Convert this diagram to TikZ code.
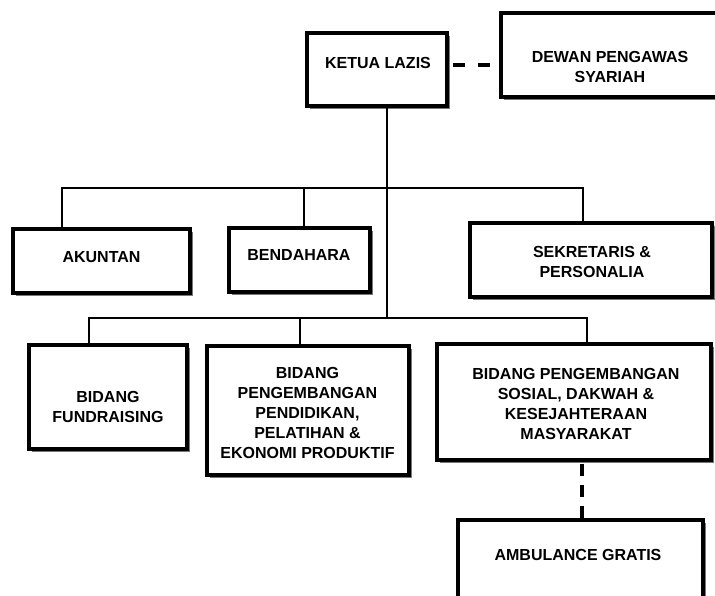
\documentclass[tikz,border=0pt]{standalone}
\usepackage{fontspec}
\setmainfont{Liberation Sans}
\usetikzlibrary{shadows}
\begin{document}
\begin{tikzpicture}[x=1pt,y=-1pt,
  box/.style={draw, line width=3.2pt, fill=white, inner sep=0pt,
    drop shadow={shadow xshift=2.5pt, shadow yshift=-2.5pt, fill=black!70, opacity=0.75}},
  lbl/.style={font=\fontsize{16}{20}\selectfont\bfseries, align=center, inner sep=0pt},
  conn/.style={line width=2.8pt},
  dconnh/.style={line width=3.2pt, dash pattern=on 12pt off 13pt, dash phase=21pt},
  dconnv/.style={line width=3.2pt, dash pattern=on 12pt off 9pt, dash phase=19pt}]
\useasboundingbox (0,0) rectangle (715,595);
% boxes
\node[box, minimum width=140pt, minimum height=73pt] (ketua) at (377,69.5) {};
\node[box, minimum width=221pt, minimum height=84pt] (dewan) at (611.5,55) {};
\node[box, minimum width=177pt, minimum height=64pt] (akuntan) at (101.5,261) {};
\node[box, minimum width=141pt, minimum height=64pt] (bendahara) at (299.5,260) {};
\node[box, minimum width=242pt, minimum height=74pt] (sekretaris) at (591,260) {};
\node[box, minimum width=158pt, minimum height=104pt] (fund) at (108,397) {};
\node[box, minimum width=202pt, minimum height=129pt] (pend) at (308,410.5) {};
\node[box, minimum width=274pt, minimum height=116pt] (sosial) at (574,402) {};
\node[box, minimum width=245pt, minimum height=80pt] (amb) at (580.5,560) {};
% texts
\node[lbl] (ketua-t) at (378,62.5) {KETUA LAZIS};
\node[lbl] (dewan-t) at (610,67) {DEWAN PENGAWAS\\SYARIAH};
\node[lbl] (akuntan-t) at (101.5,257) {AKUNTAN};
\node[lbl] (bendahara-t) at (299,255) {BENDAHARA};
\node[lbl] (sekretaris-t) at (592,262) {SEKRETARIS \&\\PERSONALIA};
\node[lbl] (fund-t) at (108,406.5) {BIDANG\\FUNDRAISING};
\node[lbl] (pend-t) at (307.5,413) {BIDANG\\PENGEMBANGAN\\PENDIDIKAN,\\PELATIHAN \&\\EKONOMI PRODUKTIF};
\node[lbl] (sosial-t) at (576,404) {BIDANG PENGEMBANGAN\\SOSIAL, DAKWAH \&\\KESEJAHTERAAN\\MASYARAKAT};
\node[lbl] (amb-t) at (578,555) {AMBULANCE GRATIS};
% helper coordinates
\coordinate (dl) at (0,65);
\coordinate (t) at (387,0);
\coordinate (b1) at (0,188);
\coordinate (b2) at (0,318);
\coordinate (xA) at (62,0);
\coordinate (xB) at (304,0);
\coordinate (xS) at (583,0);
\coordinate (xF) at (89,0);
\coordinate (xP) at (300,0);
\coordinate (xK) at (587,0);
\coordinate (xD) at (582,0);
% connectors
\draw[dconnh] (ketua.east |- dl) -- (dewan.west |- dl);
\draw[conn] (ketua.south -| t) -- (t |- b2);
\draw[conn] (akuntan.north -| xA) -- (xA |- b1) -- (xS |- b1) -- (sekretaris.north -| xS);
\draw[conn] (xB |- b1) -- (bendahara.north -| xB);
\draw[conn] (fund.north -| xF) -- (xF |- b2) -- (xK |- b2) -- (sosial.north -| xK);
\draw[conn] (xP |- b2) -- (pend.north -| xP);
\draw[dconnv] (sosial.south -| xD) -- (amb.north -| xD);
\end{tikzpicture}
\end{document}
